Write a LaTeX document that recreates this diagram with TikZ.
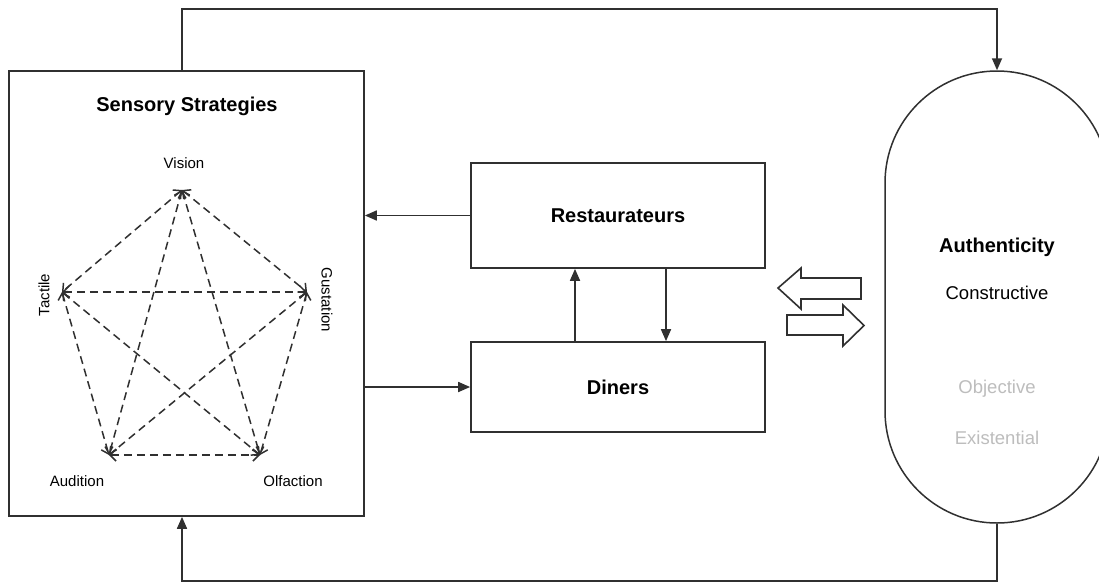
\documentclass[tikz,border=0pt]{standalone}
\usepackage{fontspec}
\setmainfont{Liberation Sans}
\usetikzlibrary{arrows.meta}
\definecolor{ink}{HTML}{303030}
\definecolor{faded}{HTML}{BDBDBD}
\tikzset{
  box/.style={draw=ink, line width=1.7pt, fill=white, inner sep=0pt},
  conn/.style={draw=ink, line width=1.7pt, -{Triangle[length=12pt,width=10pt]}},
  link/.style={draw=ink, line width=1.5pt, dash pattern=on 8pt off 5pt,
    {Straight Barb[length=6pt,width=12pt]}-{Straight Barb[length=6pt,width=12pt]}},
  bigarrow/.style={draw=ink, line width=1.6pt, fill=white, line join=miter},
  sense/.style={font=\fontsize{15}{18}\selectfont, inner sep=0pt},
  title/.style={font=\fontsize{20}{24}\selectfont\bfseries, inner sep=0pt},
  kind/.style={font=\fontsize{18.5}{22}\selectfont, inner sep=0pt}
}
\begin{document}
\begin{tikzpicture}[x=1pt, y=-1pt]
\useasboundingbox (0,0) rectangle (1099,581);

% main blocks
\node[box, minimum width=355pt, minimum height=445pt] (ss) at (186.5,293.5) {};
\node[title] (sstitle) at (187,106) {Sensory Strategies};
\node[box, minimum width=294pt, minimum height=105pt] (rest) at (618,215.5) {};
\node[title] at (rest.center) {Restaurateurs};
\node[box, minimum width=294pt, minimum height=90pt] (din) at (618,387) {};
\node[title] at (din.center) {Diners};
\node[box, line width=1.5pt, minimum width=224pt, minimum height=452pt, rounded corners=112pt] (auth) at (997,297) {};
\node[title] (authtitle) at (997,247) {Authenticity};
\node[kind] (constr) at (997,293) {Constructive};
\node[kind, text=faded] (obj) at (997,389) {Objective};
\node[kind, text=faded] (exist) at (997,438) {Existential};

% pentagon of senses
\coordinate (vis) at (182,190);
\coordinate (tac) at (62,292);
\coordinate (gus) at (307,292);
\coordinate (aud) at (109,455);
\coordinate (olf) at (260,455);
\node[sense] (visl) at (184,163) {Vision};
\node[sense, rotate=90] (tacl) at (44,295) {Tactile};
\node[sense, rotate=-90] (gusl) at (327,300) {Gustation};
\node[sense] (audl) at (77,481) {Audition};
\node[sense] (olfl) at (293,481) {Olfaction};
\foreach \a/\b in {vis/tac, vis/gus, vis/aud, vis/olf, tac/gus, tac/aud, tac/olf, gus/aud, gus/olf, aud/olf}
  \draw[link] (\a) -- (\b);

% feedback loop around the figure
\coordinate (topleft) at (182,9);
\coordinate (botleft) at (182,581);
\draw[conn] (ss.north -| topleft) -- (topleft) -| (auth.north);
\draw[conn] (auth.south) |- (botleft) -- (ss.south -| botleft);

% exchanges between the blocks
\coordinate (upx) at (575,300);
\coordinate (downx) at (666,300);
\draw[conn] (rest.west) -- (ss.east |- rest.west);
\draw[conn] (ss.east |- din.west) -- (din.west);
\draw[conn] (din.north -| upx) -- (rest.south -| upx);
\draw[conn] (rest.south -| downx) -- (din.north -| downx);

% two-way block arrows
\draw[bigarrow] (778,288) -- (801,268) -- (801,278) -- (861,278) -- (861,299)
  -- (801,299) -- (801,309) -- cycle;
\draw[bigarrow] (787,315) -- (843,315) -- (843,305) -- (864,325.5) -- (843,346)
  -- (843,335) -- (787,335) -- cycle;
\end{tikzpicture}
\end{document}
